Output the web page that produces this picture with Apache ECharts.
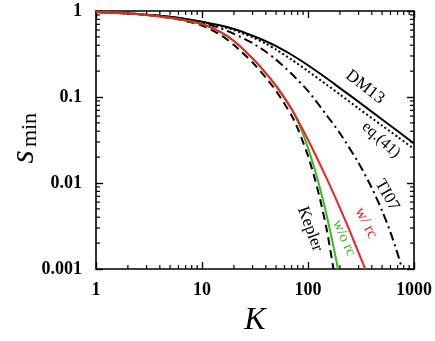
<!DOCTYPE html>
<html>
<head>
<meta charset="utf-8">
<script src="https://cdn.jsdelivr.net/npm/echarts@6/dist/echarts.min.js"></script>
<style>
  html, body { margin: 0; padding: 0; background: #fff; }
  #chart { width: 435px; height: 341px; }
</style>
</head>
<body>
<div id="chart"></div>
<script>
// data (K on x, s_min on y, both log)
const K_DM13 = [1, 2, 3, 5, 7, 10, 15, 20, 30, 40, 50, 70, 100, 150, 200, 300, 500, 700, 1000];
const S_DM13 = [0.973, 0.935, 0.905, 0.855, 0.81, 0.75, 0.678, 0.617, 0.516, 0.445, 0.39, 0.31, 0.234, 0.165, 0.127, 0.088, 0.0548, 0.0402, 0.0288];

const K_EQ41 = [1, 2, 3, 5, 7, 10, 15, 20, 30, 40, 50, 70, 100, 150, 200, 300, 500, 700, 1000];
const S_EQ41 = [0.973, 0.935, 0.905, 0.855, 0.808, 0.745, 0.664, 0.60, 0.493, 0.417, 0.356, 0.272, 0.20, 0.139, 0.107, 0.0736, 0.0465, 0.0344, 0.0249];

const K_TI07 = [1, 2, 3, 5, 7, 10, 15, 20, 30, 40, 50, 70, 100, 150, 200, 300, 400, 500, 600, 700, 772];
const S_TI07 = [0.973, 0.935, 0.905, 0.85, 0.80, 0.73, 0.628, 0.543, 0.423, 0.336, 0.272, 0.186, 0.1175, 0.0614, 0.0379, 0.0171, 0.00875, 0.00476, 0.00267, 0.00151, 0.001];

const K_KEPLER = [1, 2, 3, 5, 7, 10, 15, 20, 30, 40, 50, 70, 81, 100, 117, 130, 150, 174];
const S_KEPLER = [0.98, 0.94, 0.90, 0.83, 0.765, 0.678, 0.526, 0.402, 0.252, 0.168, 0.118, 0.061, 0.0414, 0.0207, 0.0108, 0.00647, 0.0029, 0.001];

const K_NORC = [1, 2, 3, 5, 7, 10, 15, 20, 30, 40, 50, 70, 80, 90, 100, 120, 140, 160, 180, 192];
const S_NORC = [0.98, 0.94, 0.90, 0.835, 0.776, 0.705, 0.567, 0.448, 0.281, 0.19, 0.1346, 0.0724, 0.0522, 0.0369, 0.0256, 0.0124, 0.006, 0.00296, 0.00148, 0.001];

const K_RC = [1, 2, 3, 5, 7, 10, 15, 20, 30, 40, 50, 70, 100, 150, 200, 250, 300, 347];
const S_RC = [0.98, 0.94, 0.90, 0.835, 0.776, 0.705, 0.567, 0.448, 0.281, 0.19, 0.1346, 0.0724, 0.0318, 0.0113, 0.00513, 0.0027, 0.00155, 0.001];

const X_TICK_LABELS = ["1", "10", "100", "1000"];
const Y_TICK_LABELS = ["0.001", "0.01", "0.1", "1"];
const X_MINOR = [2, 3, 4, 5, 6, 7, 8, 9, 20, 30, 40, 50, 60, 70, 80, 90, 200, 300, 400, 500, 600, 700, 800, 900];
const Y_MINOR = [0.002, 0.003, 0.004, 0.005, 0.006, 0.007, 0.008, 0.009, 0.02, 0.03, 0.04, 0.05, 0.06, 0.07, 0.08, 0.09, 0.2, 0.3, 0.4, 0.5, 0.6, 0.7, 0.8, 0.9];

const X_MIN = 1, X_MAX = 1000, Y_MIN = 0.001, Y_MAX = 1;

const SERIF = "'Liberation Serif', 'DejaVu Serif', serif";
const RED = "#f02020";
const GREEN = "#33bb22";

function pairs(ks, ss) {
  return ks.map((k, i) => [k, ss[i]]);
}

function curve(name, ks, ss, color, type) {
  return {
    name: name,
    type: "line",
    data: pairs(ks, ss),
    showSymbol: false,
    smooth: 0.25,
    silent: true,
    lineStyle: { color: color, width: 2, type: type },
  };
}

const tickLine = (x1, y1, x2, y2) => ({
  type: "line",
  shape: { x1: x1, y1: y1, x2: x2, y2: y2 },
  style: { stroke: "#000", lineWidth: 1.2 },
});

const labelText = (text, x, y, rot, color, size) => ({
  type: "text",
  x: x,
  y: y,
  rotation: rot,
  style: { text: text, font: size + "px " + SERIF, fill: color, align: "center", verticalAlign: "middle" },
});

const axisLineStyle = { lineStyle: { color: "#000", width: 1.6 } };
const majorTick = { inside: true, length: 7, lineStyle: { color: "#000", width: 1.4 } };

const myChart = echarts.init(document.getElementById("chart"));
const option = {
  animation: false,
  grid: { left: 96, right: 21, top: 11, bottom: 72 },
  xAxis: [
    {
      type: "log",
      logBase: 10,
      min: X_MIN,
      max: X_MAX,
      position: "bottom",
      axisLine: axisLineStyle,
      axisTick: majorTick,
      splitLine: { show: false },
      axisLabel: {
        margin: 12,
        fontFamily: SERIF,
        fontWeight: "bold",
        fontSize: 18,
        color: "#000",
        formatter: (v) => X_TICK_LABELS[Math.round(Math.log10(v))],
      },
    },
    {
      type: "log",
      logBase: 10,
      min: X_MIN,
      max: X_MAX,
      position: "top",
      axisLine: axisLineStyle,
      axisTick: majorTick,
      splitLine: { show: false },
      axisLabel: { show: false },
    },
  ],
  yAxis: [
    {
      type: "log",
      logBase: 10,
      min: Y_MIN,
      max: Y_MAX,
      position: "left",
      axisLine: axisLineStyle,
      axisTick: majorTick,
      splitLine: { show: false },
      axisLabel: {
        margin: 14,
        fontFamily: SERIF,
        fontWeight: "bold",
        fontSize: 18,
        color: "#000",
        formatter: (v) => Y_TICK_LABELS[Math.round(Math.log10(v)) + 3],
      },
    },
    {
      type: "log",
      logBase: 10,
      min: Y_MIN,
      max: Y_MAX,
      position: "right",
      axisLine: axisLineStyle,
      axisTick: majorTick,
      splitLine: { show: false },
      axisLabel: { show: false },
    },
  ],
  series: [
    curve("DM13", K_DM13, S_DM13, "#000", "solid"),
    curve("eq.(41)", K_EQ41, S_EQ41, "#000", [2, 2.5]),
    curve("TI07", K_TI07, S_TI07, "#000", [9, 4, 2, 4]),
    curve("Kepler", K_KEPLER, S_KEPLER, "#000", [8, 5]),
    curve("w/o rc", K_NORC, S_NORC, GREEN, "solid"),
    curve("w/ rc", K_RC, S_RC, RED, "solid"),
    {
      // minor ticks on bottom and top
      type: "custom",
      silent: true,
      clip: false,
      data: X_MINOR.map((v) => [v, Y_MIN]),
      renderItem: (params, api) => {
        const v = api.value(0);
        const b = api.coord([v, Y_MIN]);
        const t = api.coord([v, Y_MAX]);
        return {
          type: "group",
          children: [tickLine(b[0], b[1], b[0], b[1] - 4), tickLine(t[0], t[1], t[0], t[1] + 4)],
        };
      },
    },
    {
      // minor ticks on left and right
      type: "custom",
      silent: true,
      clip: false,
      data: Y_MINOR.map((v) => [X_MIN, v]),
      renderItem: (params, api) => {
        const v = api.value(1);
        const l = api.coord([X_MIN, v]);
        const r = api.coord([X_MAX, v]);
        return {
          type: "group",
          children: [tickLine(l[0], l[1], l[0] + 4, l[1]), tickLine(r[0], r[1], r[0] - 4, r[1])],
        };
      },
    },
  ],
  graphic: [
    {
      type: "text",
      x: 255,
      y: 321,
      style: { text: "K", font: "italic 32px " + SERIF, fill: "#000", align: "center", verticalAlign: "middle" },
    },
    {
      type: "group",
      x: 24,
      y: 157,
      rotation: Math.PI / 2,
      children: [
        {
          type: "text",
          x: 0,
          y: 0,
          style: { text: "s", font: "italic 34px " + SERIF, fill: "#000", align: "center", verticalAlign: "middle" },
        },
        {
          type: "text",
          x: 27,
          y: 6,
          style: { text: "min", font: "22px " + SERIF, fill: "#000", align: "center", verticalAlign: "middle" },
        },
      ],
    },
    labelText("DM13", 365, 87, -0.66, "#000", 17),
    labelText("eq.(41)", 381, 140, -0.73, "#000", 16),
    labelText("TI07", 387, 195, -1.05, "#000", 17),
    labelText("w/ rc", 366, 223, -1.1, RED, 16),
    labelText("w/o rc", 344, 238, -1.15, GREEN, 15),
    labelText("Kepler", 310, 229, -1.22, "#000", 17),
  ],
};
myChart.setOption(option);
</script>
</body>
</html>
